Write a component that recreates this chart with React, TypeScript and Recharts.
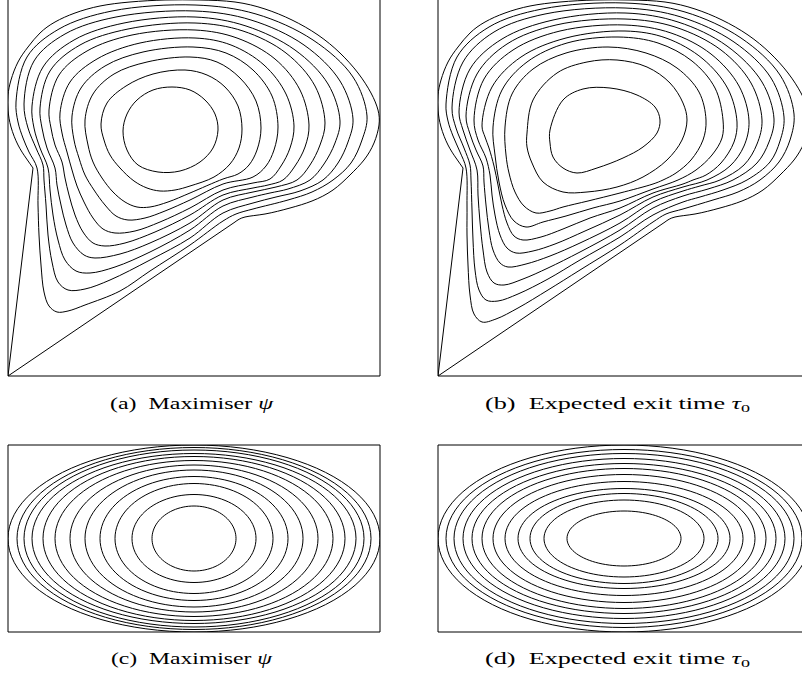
import React from "react";
import { LineChart, Line, XAxis, YAxis, ReferenceLine } from "recharts";

// Panels (a) and (b) share the same domain: grid units across 0..372, down from the top edge 0..376
// curved part of the domain edge, from the left notch round the top to the right notch
const boundaryArc = [
  [25, 168], [18, 158], [10, 145], [3, 127], [0, 110], [0, 95], [3, 80],
  [10, 62], [20, 47], [32, 33], [47, 22], [67, 13], [92, 6], [122, 2], [157, 0],
  [192, 0], [227, 2], [257, 9], [284, 20], [310, 35], [332, 53], [350, 73],
  [363, 93], [370, 110], [371, 125], [366, 143], [356, 160], [342, 175],
  [325, 190], [304, 201], [282, 208], [257, 214], [237, 217], [227, 222],
];
// straight part of the domain edge: right notch -> corner -> left notch
const boundaryWedge = [[227, 222], [0, 376], [25, 168]];

// (a) Maximiser psi — level curves, outermost first
const psi1 = [
  [8, 102], [19, 57], [51, 29], [104, 11], [187, 5], [248, 14], [305, 40], [345, 77], [359, 116],
  [354, 140], [343, 163], [325, 180], [304, 192], [280, 200], [245, 209], [228, 214],
  [215, 221], [182, 245], [142, 271], [112, 291], [77, 305], [60, 311], [49, 312],
  [41, 306], [36, 292], [33, 265], [31, 235], [30, 205], [29, 168], [21, 152], [15, 138], [10, 122],
];
const psi2 = [
  [16, 104], [26, 61], [57, 34], [108, 17], [187, 11], [243, 20], [296, 45], [332, 81], [345, 119],
  [340, 142], [330, 163], [315, 180], [292, 191], [268, 197], [245, 203], [215, 213],
  [182, 238], [142, 260], [102, 280], [77, 289], [60, 290], [50, 282], [44, 262],
  [40, 235], [38, 205], [36, 180], [35, 165], [28, 148], [20, 128],
];
const psi3 = [
  [24, 106], [35, 67], [66, 40], [116, 23], [187, 17], [238, 26], [287, 50], [320, 84], [332, 121],
  [327, 143], [316, 164], [302, 180], [280, 189], [262, 193], [245, 197], [215, 206],
  [182, 230], [142, 252], [107, 267], [82, 273], [68, 271], [57, 260], [50, 240],
  [45, 215], [42, 190], [40, 168], [32, 148], [26, 128],
];
const psi4 = [
  [32, 108], [42, 71], [72, 45], [120, 29], [187, 23], [235, 31], [278, 53], [307, 86], [317, 123],
  [312, 145], [302, 165], [289, 180], [268, 187], [245, 192], [215, 200], [182, 223],
  [142, 243], [112, 254], [87, 258], [76, 255], [65, 243], [58, 225], [53, 205],
  [49, 185], [47, 168], [39, 148], [34, 128],
];
const psi5 = [
  [41, 110], [51, 75], [79, 51], [124, 35], [187, 30], [229, 38], [267, 59], [292, 90], [301, 125],
  [297, 147], [287, 166], [275, 180], [260, 185], [245, 188], [215, 195], [182, 215],
  [147, 232], [117, 243], [97, 246], [85, 243], [75, 232], [67, 215], [61, 195],
  [57, 178], [54, 162], [47, 145], [43, 128],
];
const psi6 = [
  [52, 113], [62, 82], [89, 59], [132, 43], [187, 38], [223, 45], [256, 65], [278, 94], [286, 126],
  [282, 148], [273, 166], [262, 179], [245, 183], [215, 190], [182, 208], [152, 222],
  [127, 231], [107, 233], [95, 229], [85, 218], [76, 202], [69, 186], [64, 170],
  [59, 152], [54, 133],
];
const psi7 = [
  [64, 116], [73, 88], [97, 66], [135, 52], [185, 47], [218, 53], [245, 70], [264, 96], [270, 127],
  [266, 150], [258, 166], [245, 177], [215, 184], [182, 200], [157, 211], [137, 218],
  [120, 220], [108, 216], [97, 205], [86, 190], [77, 175], [71, 158], [66, 140],
];
const psi8 = [
  [77, 120], [85, 94], [106, 74], [139, 62], [182, 57], [209, 62], [232, 78], [248, 101], [253, 128],
  [249, 150], [241, 165], [230, 174], [215, 179], [182, 193], [160, 202], [142, 207],
  [129, 207], [117, 202], [105, 192], [94, 178], [85, 162], [80, 145],
];
const psi9 = [
  [93, 124], [99, 103], [118, 86], [145, 74], [177, 70], [199, 75], [217, 87], [230, 106], [234, 129],
  [231, 148], [222, 164], [206, 177], [182, 186], [167, 190], [152, 191], [139, 188],
  [126, 181], [112, 168], [102, 155], [96, 140],
];
const psi10 = [
  [115, 131], [119, 114], [129, 100], [145, 90], [164, 87], [182, 90], [197, 100], [207, 114],
  [210, 130], [205, 148], [192, 162], [172, 171], [150, 172], [130, 165], [119, 150],
];

// (b) Expected exit time tau0 — level curves, outermost first
const tau1 = [
  [8, 104], [19, 57], [51, 27], [104, 9], [187, 3], [247, 12], [303, 38], [342, 75], [356, 114],
  [352, 140], [341, 162], [322, 180], [300, 192], [275, 200], [245, 209], [228, 214],
  [215, 222], [182, 245], [142, 270], [110, 290], [80, 308], [58, 319], [44, 322],
  [36, 314], [32, 295], [30, 265], [29, 235], [29, 205], [28, 168], [22, 152], [15, 136], [10, 121],
];
const tau2 = [
  [14, 108], [25, 62], [56, 32], [107, 14], [187, 8], [243, 17], [296, 42], [333, 78], [346, 117],
  [342, 141], [332, 162], [309, 180], [285, 190], [262, 197], [245, 202], [215, 215],
  [182, 237], [142, 260], [110, 279], [80, 294], [60, 301], [48, 300], [41, 290],
  [37, 270], [35, 240], [34, 210], [33, 180], [32, 165], [26, 148], [18, 128],
];
const tau3 = [
  [21, 112], [32, 69], [64, 39], [115, 20], [187, 13], [240, 22], [289, 46], [324, 82], [336, 119],
  [331, 142], [319, 163], [295, 180], [270, 189], [245, 196], [215, 208], [182, 230],
  [142, 252], [110, 268], [85, 279], [66, 285], [56, 283], [49, 272], [45, 250],
  [42, 222], [40, 195], [39, 170], [32, 150], [25, 130],
];
const tau4 = [
  [28, 116], [39, 74], [69, 44], [118, 25], [187, 19], [237, 27], [283, 50], [313, 83], [324, 120],
  [319, 144], [306, 165], [282, 180], [262, 186], [245, 191], [215, 202], [182, 223],
  [142, 243], [112, 256], [88, 264], [70, 267], [62, 263], [55, 250], [51, 230],
  [48, 205], [46, 182], [45, 166], [38, 150], [32, 134],
];
const tau5 = [
  [36, 120], [46, 79], [75, 50], [122, 31], [187, 25], [233, 33], [273, 54], [301, 86], [311, 121],
  [306, 146], [292, 166], [269, 180], [245, 187], [215, 197], [182, 215], [147, 231],
  [117, 244], [95, 251], [78, 253], [69, 248], [62, 235], [57, 215], [54, 195],
  [52, 175], [48, 158], [40, 140],
];
const tau6 = [
  [44, 126], [54, 87], [83, 57], [128, 38], [187, 31], [228, 38], [265, 59], [290, 89], [299, 122],
  [296, 142], [283, 163], [268, 175], [255, 180], [245, 184], [215, 193], [182, 208],
  [152, 218], [125, 229], [103, 237], [85, 240], [76, 236], [69, 223], [64, 205],
  [60, 185], [56, 166], [51, 148], [47, 137],
];
const tau7 = [
  [55, 127], [64, 90], [89, 62], [129, 43], [180, 37], [220, 43], [254, 61], [277, 88], [285, 120],
  [284, 138], [274, 155], [258, 170], [240, 180], [215, 189], [182, 201], [155, 208],
  [128, 216], [105, 222], [88, 227], [76, 221], [67, 205], [61, 182], [57, 155],
];
const tau8 = [
  [67, 127], [74, 94], [95, 69], [128, 53], [170, 47], [208, 53], [239, 68], [261, 92], [268, 120],
  [265, 140], [253, 160], [238, 173], [225, 180], [215, 184], [182, 193], [150, 201],
  [125, 207], [112, 211], [98, 213], [86, 206], [77, 192], [71, 173], [68, 155],
];
const tau9 = [
  [89, 133], [95, 100], [119, 73], [149, 62], [179, 60], [209, 67], [232, 83], [245, 103],
  [249, 120], [244, 140], [229, 160], [205, 177], [179, 187], [149, 192], [125, 192],
  [105, 182], [94, 163], [89, 147],
];
const tau10 = [
  [112, 130], [125, 100], [145, 89], [172, 88], [199, 95], [217, 107], [222, 120],
  [219, 133], [205, 147], [185, 158], [159, 168], [139, 173], [125, 168], [115, 157], [112, 143],
];

// Panels (c) and (d): semi-axes of the concentric level curves (grid units, box 372 x 187)
const ellipseRxC = [186, 177, 170, 162, 151, 139, 124, 109, 94, 79, 62, 42];
const ellipseRyC = [93.5, 91, 88.5, 85, 82, 78, 73.5, 68.5, 62, 55, 44, 32.5];
const ellipseRxD = [186, 178, 170, 161, 152, 142, 131, 119, 106, 94, 80, 57];
const ellipseRyD = [93.5, 89, 85, 80, 75, 70, 64, 57, 50, 45, 38.5, 27.5];

type Pt = { x: number; y: number };
type Curve = { points: Pt[]; type: any };

const toPts = (arr: number[][]): Pt[] => arr.map(([x, y]) => ({ x, y }));

// smooth closed curve through every point (centripetal Catmull-Rom), handed to Recharts as its curve type
const closedSpline = (context: any) => {
  let pts: number[][] = [];
  return {
    areaStart() {},
    areaEnd() {},
    lineStart() {
      pts = [];
    },
    point(x: number, y: number) {
      pts.push([+x, +y]);
    },
    lineEnd() {
      const n = pts.length;
      if (n < 3) return;
      context.moveTo(pts[0][0], pts[0][1]);
      for (let i = 0; i < n; i++) {
        const p0 = pts[(i - 1 + n) % n];
        const p1 = pts[i];
        const p2 = pts[(i + 1) % n];
        const p3 = pts[(i + 2) % n];
        const d01 = Math.hypot(p1[0] - p0[0], p1[1] - p0[1]);
        const d12 = Math.hypot(p2[0] - p1[0], p2[1] - p1[1]);
        const d23 = Math.hypot(p3[0] - p2[0], p3[1] - p2[1]);
        const a01 = Math.sqrt(d01);
        const a12 = Math.sqrt(d12);
        const a23 = Math.sqrt(d23);
        let c1x = p1[0];
        let c1y = p1[1];
        let c2x = p2[0];
        let c2y = p2[1];
        if (a01 > 1e-6) {
          const a = 2 * d01 + 3 * a01 * a12 + d12;
          const m = 3 * a01 * (a01 + a12);
          c1x = (p1[0] * a - p0[0] * d12 + p2[0] * d01) / m;
          c1y = (p1[1] * a - p0[1] * d12 + p2[1] * d01) / m;
        }
        if (a23 > 1e-6) {
          const b = 2 * d23 + 3 * a23 * a12 + d12;
          const m = 3 * a23 * (a23 + a12);
          c2x = (p2[0] * b + p1[0] * d23 - p3[0] * d12) / m;
          c2y = (p2[1] * b + p1[1] * d23 - p3[1] * d12) / m;
        }
        context.bezierCurveTo(c1x, c1y, c2x, c2y, p2[0], p2[1]);
      }
      context.closePath();
    },
  };
};

const ellipse = (cx: number, cy: number, rx: number, ry: number): Pt[] => {
  const pts: Pt[] = [];
  for (let i = 0; i < 96; i++) {
    const t = (i / 96) * Math.PI * 2;
    pts.push({ x: cx + rx * Math.cos(t), y: cy + ry * Math.sin(t) });
  }
  return pts;
};

const domainEdge: Curve[] = [
  { points: toPts(boundaryArc), type: "natural" },
  { points: toPts(boundaryWedge), type: "linear" },
];

const curvesA: Curve[] = [
  ...domainEdge,
  ...[psi1, psi2, psi3, psi4, psi5, psi6, psi7, psi8, psi9, psi10].map((c) => ({
    points: toPts(c),
    type: closedSpline,
  })),
];
const curvesB: Curve[] = [
  ...domainEdge,
  ...[tau1, tau2, tau3, tau4, tau5, tau6, tau7, tau8, tau9, tau10].map((c) => ({
    points: toPts(c),
    type: closedSpline,
  })),
];
const curvesC: Curve[] = ellipseRxC.map((rx, i) => ({
  points: ellipse(186, 93.5, rx, ellipseRyC[i]),
  type: "linearClosed",
}));
const curvesD: Curve[] = ellipseRxD.map((rx, i) => ({
  points: ellipse(186, 93.5, rx, ellipseRyD[i]),
  type: "linearClosed",
}));

type PanelProps = {
  left: number;
  top: number;
  w: number;
  h: number;
  curves: Curve[];
  topBorder: boolean;
};

const Panel = ({ left, top, w, h, curves, topBorder }: PanelProps) => (
  <div style={{ position: "absolute", left: left - 5, top: top - 5 }}>
    <LineChart width={w + 10} height={h + 10} margin={{ top: 5, right: 5, bottom: 5, left: 5 }}>
      <XAxis type="number" dataKey="x" domain={[0, w]} allowDataOverflow hide />
      <YAxis type="number" domain={[0, h]} allowDataOverflow reversed hide />
      <ReferenceLine x={0} stroke="#000" strokeWidth={1} />
      <ReferenceLine x={w} stroke="#000" strokeWidth={1} />
      <ReferenceLine y={h} stroke="#000" strokeWidth={1} />
      {topBorder && <ReferenceLine y={0} stroke="#000" strokeWidth={1} />}
      {curves.map((c, i) => (
        <Line
          key={i}
          data={c.points}
          dataKey="y"
          type={c.type}
          stroke="#000"
          strokeWidth={1}
          dot={false}
          activeDot={false}
          isAnimationActive={false}
        />
      ))}
    </LineChart>
  </div>
);

const Caption = ({ x, y, width, label, children }: any) => (
  <svg style={{ position: "absolute", left: x, top: y - 16 }} width={width + 4} height={24}>
    <text
      x={0}
      y={16}
      textLength={width}
      lengthAdjust="spacingAndGlyphs"
      fontFamily="'Liberation Serif', serif"
      fontSize={16}
      fill="#000"
    >
      {label}
      {children}
    </text>
  </svg>
);

export default function App() {
  return (
    <div
      style={{
        position: "absolute",
        left: 0,
        top: 0,
        width: 802,
        height: 679,
        overflow: "hidden",
        background: "#fff",
      }}
    >
      <Panel left={8} top={0} w={372} h={376} curves={curvesA} topBorder={false} />
      <Panel left={438} top={0} w={372} h={376} curves={curvesB} topBorder={false} />
      <Panel left={8} top={445} w={372} h={187} curves={curvesC} topBorder />
      <Panel left={438} top={445} w={372} h={187} curves={curvesD} topBorder />
      <Caption x={110} y={409} width={163} label={"(a)\u2002Maximiser "}>
        <tspan fontStyle="italic">ψ</tspan>
      </Caption>
      <Caption x={485} y={409} width={265} label={"(b)\u2002Expected exit time "}>
        <tspan fontStyle="italic">τ</tspan>
        <tspan fontSize={11} dy={3}>0</tspan>
      </Caption>
      <Caption x={111} y={664} width={161} label={"(c)\u2002Maximiser "}>
        <tspan fontStyle="italic">ψ</tspan>
      </Caption>
      <Caption x={485} y={664} width={265} label={"(d)\u2002Expected exit time "}>
        <tspan fontStyle="italic">τ</tspan>
        <tspan fontSize={11} dy={3}>0</tspan>
      </Caption>
    </div>
  );
}
